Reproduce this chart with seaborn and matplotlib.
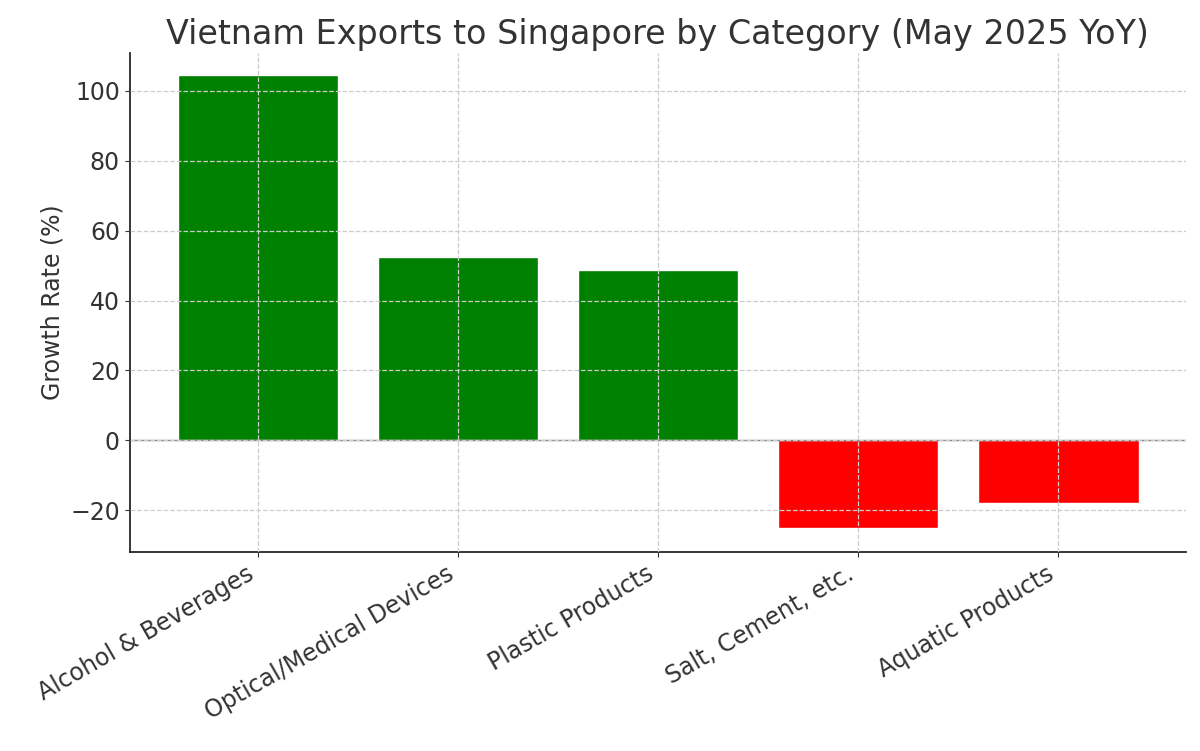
import matplotlib
matplotlib.use("Agg")
import matplotlib.pyplot as plt
import seaborn as sns
import pandas as pd

categories = ["Alcohol & Beverages", "Optical/Medical Devices", "Plastic Products", "Salt, Cement, etc.", "Aquatic Products"]
growth = [104.6, 52.6, 48.6, -25.2, -18.0]
colors = ["green" if v >= 0 else "red" for v in growth]

sns.set_style("ticks")
plt.rcParams['font.family'] = ['DejaVu Sans']
plt.rcParams['text.color'] = '#333333'
plt.rcParams['axes.labelcolor'] = '#333333'
plt.rcParams['xtick.color'] = '#333333'
plt.rcParams['ytick.color'] = '#333333'

df = pd.DataFrame({"cat": categories, "val": growth})
fig, ax = plt.subplots(figsize=(12, 7.51), dpi=100)
sns.barplot(data=df, x="cat", y="val", hue="cat", palette=colors, legend=False, ax=ax, width=0.8, saturation=1)
ax.axhline(0, color="gray", linewidth=1)
ax.grid(True, linestyle="--", color="#cccccc", linewidth=0.9)
ax.set_axisbelow(False)
for b in ax.patches:
    b.set_zorder(1)
ax.set_title("Vietnam Exports to Singapore by Category (May 2025 YoY)", fontsize=24, color='#333333')
ax.set_ylabel("Growth Rate (%)", fontsize=17)
ax.set_xlabel("")
ax.set_xlim(-0.64, 4.635)
ax.set_ylim(-32, 111)
ax.set_yticks([-20, 0, 20, 40, 60, 80, 100])
ax.set_yticklabels(["\u221220", "0", "20", "40", "60", "80", "100"])
ax.tick_params(axis='both', labelsize=17)
plt.setp(ax.get_xticklabels(), rotation=30, ha="right")
for s in ["top", "right"]:
    ax.spines[s].set_visible(False)
ax.spines["left"].set_linewidth(1.3)
ax.spines["bottom"].set_linewidth(1.3)
fig.subplots_adjust(left=0.108, right=0.988, top=0.93, bottom=0.265)
fig.savefig("out.png", dpi=100)
